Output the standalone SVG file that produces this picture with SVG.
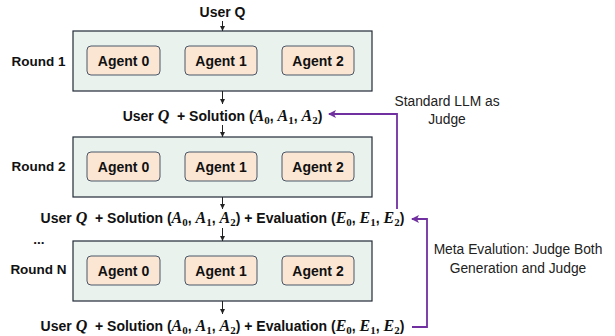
<svg xmlns="http://www.w3.org/2000/svg" width="615" height="336" viewBox="0 0 615 336">
<defs>
<style>
.t{font-family:"Liberation Sans",Arial,sans-serif;font-weight:bold;font-size:13.5px;fill:#111}
.g{font-size:14px}
.eq{font-family:"Liberation Sans",Arial,sans-serif;font-weight:bold;font-size:14px;fill:#111}
.lbl{font-family:"Liberation Sans",Arial,sans-serif;font-size:13.8px;fill:#222}
.m{font-family:"Liberation Serif","Times New Roman",serif;font-style:italic;font-weight:bold;font-size:16px}
.s{font-family:"Liberation Serif","Times New Roman",serif;font-weight:bold;font-size:11px}
.round{fill:#EAF2EE;stroke:#222B38;stroke-width:1.2}
.agent{fill:#FBE6D4;stroke:#4A5668;stroke-width:1}
.ar{stroke:#222;stroke-width:1;fill:none}
.pl{stroke:#7030A0;stroke-width:1.8;fill:none}
</style>
<marker id="ab" viewBox="0 0 6 6" refX="6" refY="3" markerWidth="5" markerHeight="5" orient="auto" markerUnits="userSpaceOnUse"><path d="M0,0 L6,3 L0,6 z" fill="#222"/></marker>
<marker id="ap" viewBox="0 0 8 8" refX="7" refY="4" markerWidth="8" markerHeight="8" orient="auto" markerUnits="userSpaceOnUse"><path d="M0,0 L8,4 L0,8 L2,4 z" fill="#7030A0"/></marker>
</defs>
<rect width="615" height="336" fill="#fff"/>
<text class="t g" x="222.5" y="17" text-anchor="middle">User Q</text>
<g id="round1">
<rect class="round" x="73" y="31" width="299" height="60"/>
<text class="t" x="38.5" y="66" text-anchor="middle">Round 1</text>
<g id="r1a0"><rect class="agent" x="87" y="46" width="73" height="29" rx="4"/><text class="t g" x="123.5" y="65.5" text-anchor="middle">Agent 0</text></g>
<g id="r1a1"><rect class="agent" x="185" y="46" width="72" height="29" rx="4"/><text class="t g" x="221" y="65.5" text-anchor="middle">Agent 1</text></g>
<g id="r1a2"><rect class="agent" x="282" y="46" width="72" height="29" rx="4"/><text class="t g" x="318" y="65.5" text-anchor="middle">Agent 2</text></g>
</g>
<g id="round2">
<rect class="round" x="73" y="137" width="299" height="60"/>
<text class="t" x="38.5" y="171" text-anchor="middle">Round 2</text>
<g id="r2a0"><rect class="agent" x="87" y="152" width="73" height="29" rx="4"/><text class="t g" x="123.5" y="171.5" text-anchor="middle">Agent 0</text></g>
<g id="r2a1"><rect class="agent" x="185" y="152" width="72" height="29" rx="4"/><text class="t g" x="221" y="171.5" text-anchor="middle">Agent 1</text></g>
<g id="r2a2"><rect class="agent" x="282" y="152" width="72" height="29" rx="4"/><text class="t g" x="318" y="171.5" text-anchor="middle">Agent 2</text></g>
</g>
<text class="t" x="39" y="244" text-anchor="middle">...</text>
<g id="roundN">
<rect class="round" x="73" y="241" width="299" height="60"/>
<text class="t" x="38.5" y="273.5" text-anchor="middle">Round N</text>
<g id="rNa0"><rect class="agent" x="87" y="256" width="73" height="29" rx="4"/><text class="t g" x="123.5" y="275.5" text-anchor="middle">Agent 0</text></g>
<g id="rNa1"><rect class="agent" x="185" y="256" width="72" height="29" rx="4"/><text class="t g" x="221" y="275.5" text-anchor="middle">Agent 1</text></g>
<g id="rNa2"><rect class="agent" x="282" y="256" width="72" height="29" rx="4"/><text class="t g" x="318" y="275.5" text-anchor="middle">Agent 2</text></g>
</g>
<g id="texts">
<text class="eq" x="222.5" y="121" text-anchor="middle" xml:space="preserve">User <tspan class="m">Q</tspan>  + Solution (<tspan class="m">A</tspan><tspan class="s" dy="3">0</tspan><tspan dy="-3">, </tspan><tspan class="m">A</tspan><tspan class="s" dy="3">1</tspan><tspan dy="-3">, </tspan><tspan class="m">A</tspan><tspan class="s" dy="3">2</tspan><tspan dy="-3">)</tspan></text>
<text class="eq" x="222.5" y="223" text-anchor="middle" xml:space="preserve">User <tspan class="m">Q</tspan>  + Solution (<tspan class="m">A</tspan><tspan class="s" dy="3">0</tspan><tspan dy="-3">, </tspan><tspan class="m">A</tspan><tspan class="s" dy="3">1</tspan><tspan dy="-3">, </tspan><tspan class="m">A</tspan><tspan class="s" dy="3">2</tspan><tspan dy="-3">) + Evaluation (</tspan><tspan class="m">E</tspan><tspan class="s" dy="3">0</tspan><tspan dy="-3">, </tspan><tspan class="m">E</tspan><tspan class="s" dy="3">1</tspan><tspan dy="-3">, </tspan><tspan class="m">E</tspan><tspan class="s" dy="3">2</tspan><tspan dy="-3">)</tspan></text>
<text class="eq" x="222.5" y="331" text-anchor="middle" xml:space="preserve">User <tspan class="m">Q</tspan>  + Solution (<tspan class="m">A</tspan><tspan class="s" dy="3">0</tspan><tspan dy="-3">, </tspan><tspan class="m">A</tspan><tspan class="s" dy="3">1</tspan><tspan dy="-3">, </tspan><tspan class="m">A</tspan><tspan class="s" dy="3">2</tspan><tspan dy="-3">) + Evaluation (</tspan><tspan class="m">E</tspan><tspan class="s" dy="3">0</tspan><tspan dy="-3">, </tspan><tspan class="m">E</tspan><tspan class="s" dy="3">1</tspan><tspan dy="-3">, </tspan><tspan class="m">E</tspan><tspan class="s" dy="3">2</tspan><tspan dy="-3">)</tspan></text>
<text class="lbl" x="447" y="106" text-anchor="middle">Standard LLM as</text>
<text class="lbl" x="447" y="124" text-anchor="middle">Judge</text>
<text class="lbl" x="518" y="254" text-anchor="middle">Meta Evalution: Judge Both</text>
<text class="lbl" x="518" y="273" text-anchor="middle">Generation and Judge</text>
</g>
<g id="connectors">
<line class="ar" x1="222.5" y1="21" x2="222.5" y2="31" marker-end="url(#ab)"/>
<line class="ar" x1="222.5" y1="91" x2="222.5" y2="104" marker-end="url(#ab)"/>
<line class="ar" x1="222.5" y1="125" x2="222.5" y2="137" marker-end="url(#ab)"/>
<line class="ar" x1="222.5" y1="197" x2="222.5" y2="209" marker-end="url(#ab)"/>
<line class="ar" x1="222.5" y1="228" x2="222.5" y2="241" marker-end="url(#ab)"/>
<line class="ar" x1="222.5" y1="301" x2="222.5" y2="314" marker-end="url(#ab)"/>
<polyline class="pl" points="397,209 397,114 329,114" marker-end="url(#ap)"/>
<polyline class="pl" points="412,327 427,327 427,219 412,219" marker-end="url(#ap)"/>
</g>
</svg>
